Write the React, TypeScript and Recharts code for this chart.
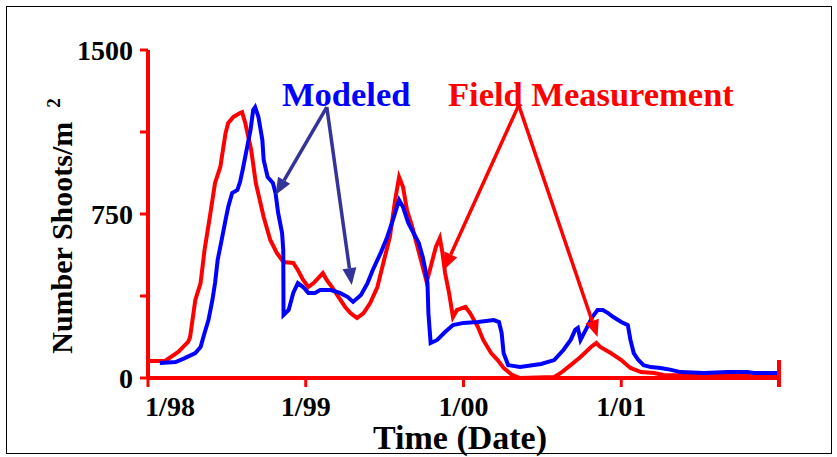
import { LineChart, Line, XAxis, YAxis, ReferenceLine, Customized } from "recharts";

// months since Jan 1998
const modeledMonths = [
  0.9, 2.1, 2.8, 3.6, 4.0, 4.3, 4.6, 4.9, 5.1, 5.3, 5.6, 5.9, 6.1, 6.4, 6.8, 7.0, 7.2, 7.5,
  7.8, 8.0, 8.15, 8.4, 8.7, 8.8, 9.1, 9.5, 9.7, 9.9, 10.2, 10.29, 10.31, 10.7, 11.05, 11.4,
  11.8, 12.2, 12.7, 13.1, 13.9, 14.6, 15.2, 15.6, 16.2, 16.7, 17.1, 17.7, 18.2, 18.7, 19.1,
  19.4, 19.8, 20.2, 20.6, 20.9, 21.1, 21.26, 21.33, 21.5, 22.0, 22.6, 23.2, 24.0, 25.1, 26.3,
  26.7, 26.9, 27.05, 27.4, 28.3, 29.9, 30.9, 31.6, 32.15, 32.5, 32.7, 32.9, 33.3, 33.8, 34.2,
  34.6, 35.0, 35.4, 36.0, 36.5, 36.7, 36.95, 37.3, 37.7, 38.25, 39.0, 39.8, 40.5, 42.3, 44.1,
  45.6, 46.1, 47.9,
];
const modeledShoots = [
  69, 73, 91, 114, 142, 206, 265, 357, 434, 540, 631, 723, 782, 846, 860, 896, 951, 1043,
  1134, 1226, 1239, 1194, 1088, 997, 919, 892, 846, 755, 663, 585, 288, 311, 389, 434,
  416, 389, 389, 402, 402, 389, 370, 348, 380, 434, 494, 572, 645, 736, 814,
  782, 709, 663, 617, 553, 494, 434, 297, 160, 174, 210, 242, 252, 256, 265,
  256, 206, 114, 59, 50, 64, 82, 128, 174, 220, 229, 174, 220, 279, 311,
  311, 297, 279, 256, 242, 174, 114, 82, 59, 50, 46, 37, 27, 23, 27,
  27, 23, 23,
];

const fieldMonths = [
  0.15, 1.3, 2.3, 3.05, 3.2, 3.6, 4.0, 4.3, 4.7, 5.1, 5.5, 5.7, 5.9, 6.1, 6.5, 7.0, 7.16,
  7.4, 7.85, 8.2, 8.8, 9.3, 9.8, 10.3, 11.05, 11.4, 11.8, 12.2, 12.6, 13.3, 13.6, 14.0,
  14.5, 15.0, 15.4, 15.9, 16.4, 16.9, 17.45, 17.9, 18.4, 18.8, 19.1, 19.4, 19.7, 20.1, 20.5,
  20.9, 21.2, 21.5, 21.9, 22.2, 22.4, 22.6, 22.9, 23.2, 23.5, 24.15, 24.5, 25.1, 25.5, 26.1,
  26.6, 27.05, 27.7, 28.3, 30.9, 31.4, 32.15, 32.9, 33.7, 34.1, 34.4, 35.2, 36.0, 36.7, 37.5,
  38.5, 39.2, 47.9,
];
const fieldShoots = [
  78, 78, 119, 165, 187, 357, 434, 585, 736, 892, 965, 1043, 1120, 1166, 1194, 1212, 1216,
  1166, 1043, 892, 736, 631, 572, 530, 526, 494, 448, 416, 434, 480, 448, 416,
  370, 325, 297, 274, 297, 343, 416, 526, 645, 814, 919, 873, 768, 691, 599,
  508, 439, 508, 599, 640, 572, 480, 389, 279, 311, 325, 297, 233, 174, 114,
  82, 46, 14, 0, 5, 23, 59, 96, 142, 160, 142, 114, 82, 46, 27,
  23, 14, 9,
];

const yTicks = [0, 375, 750, 1125, 1500];
const yLabeled = [0, 750, 1500];
const xTicks = [0, 12, 24, 36, 48];
const xTickLabels = ["1/98", "1/99", "1/00", "1/01", ""];

const modeledData = modeledMonths.map((m, i) => ({ m, v: modeledShoots[i] }));
const fieldData = fieldMonths.map((m, i) => ({ m, v: fieldShoots[i] }));

// annotation arrows: [apex month, apex value, tip month, tip value]
const modeledArrows = [
  [13.6, 1239, 9.7, 837],
  [13.6, 1239, 15.5, 425],
];
const fieldArrows = [
  [28.2, 1248, 22.5, 494],
  [28.2, 1248, 34.2, 187],
];

const FONT = "Liberation Serif, Times New Roman, serif";
const RED = "#ff0000";
const BLUE = "#0000ff";
const NAVY = "#333399";
const serif = { fontFamily: FONT, fontWeight: 700 };

const YTick = (props: any) => {
  const { x, y, payload } = props;
  if (!yLabeled.includes(payload.value)) return null;
  return (
    <text x={x} y={y} dy={10} textAnchor="end" style={serif} fontSize={28} fill="#000">
      {payload.value}
    </text>
  );
};

const XTick = (props: any) => {
  const { x, y, payload, index } = props;
  const axisY = y - 11;
  if (payload.value === 48) {
    return <line x1={x} y1={axisY - 18} x2={x} y2={axisY + 9} stroke={RED} strokeWidth={4} />;
  }
  return (
    <text x={x + (index === 0 ? 22 : 0)} y={y} dy={27} textAnchor="middle" style={serif} fontSize={28} fill="#000">
      {xTickLabels[index]}
    </text>
  );
};

const arrowShape = (color: string) => (props: any) => {
  const { x1, y1, x2, y2 } = props;
  if ([x1, y1, x2, y2].some((n) => typeof n !== "number")) return null;
  const a = Math.atan2(y2 - y1, x2 - x1);
  const len = 17;
  const w = 7;
  const bx = x2 - len * Math.cos(a);
  const by = y2 - len * Math.sin(a);
  const px = -Math.sin(a) * w;
  const py = Math.cos(a) * w;
  return (
    <g>
      <line x1={x1} y1={y1} x2={bx} y2={by} stroke={color} strokeWidth={3.5} />
      <polygon points={`${x2},${y2} ${bx + px},${by + py} ${bx - px},${by - py}`} fill={color} />
    </g>
  );
};

const Labels = () => (
  <g>
    <text x={282} y={106} fontSize={34.5} fill={BLUE} style={serif}>Modeled</text>
    <text x={448} y={106} fontSize={34.5} fill={RED} style={serif}>Field Measurement</text>
    <text x={460} y={449} fontSize={34} textAnchor="middle" fill="#000" style={serif}>Time (Date)</text>
    <text transform="translate(72,226) rotate(-90)" textAnchor="middle" fontSize={30} fill="#000" style={serif}>
      Number Shoots/m<tspan fontSize={19} dx={14} dy={-12}>2</tspan>
    </text>
  </g>
);

export default function App() {
  return (
    <div style={{ position: "absolute", left: 0, top: 0, width: 837, height: 457, background: "#fff" }}>
      <div
        style={{
          position: "absolute",
          left: 6,
          top: 6,
          width: 824,
          height: 446,
          border: "1.5px solid #000",
        }}
      />
      <LineChart width={837} height={457} margin={{ top: 50, right: 58, bottom: 49, left: 88 }}>
        <XAxis
          type="number"
          dataKey="m"
          domain={[0, 48]}
          ticks={xTicks}
          height={30}
          axisLine={{ stroke: RED, strokeWidth: 4 }}
          tickLine={{ stroke: RED, strokeWidth: 3 }}
          tickSize={9}
          tickMargin={2}
          tick={<XTick />}
          interval={0}
          allowDataOverflow
        />
        <YAxis
          type="number"
          domain={[0, 1500]}
          ticks={yTicks}
          width={60}
          axisLine={{ stroke: RED, strokeWidth: 4 }}
          tickLine={{ stroke: RED, strokeWidth: 3 }}
          tickSize={8}
          tickMargin={7}
          tick={<YTick />}
          interval={0}
        />
        <Line data={fieldData} dataKey="v" type="linear" stroke={RED} strokeWidth={4} dot={false} isAnimationActive={false} />
        <Line data={modeledData} dataKey="v" type="linear" stroke={BLUE} strokeWidth={4} dot={false} isAnimationActive={false} />
        {modeledArrows.map((s, i) => (
          <ReferenceLine
            key={`ma${i}`}
            segment={[{ x: s[0], y: s[1] }, { x: s[2], y: s[3] }]}
            shape={arrowShape(NAVY)}
          />
        ))}
        {fieldArrows.map((s, i) => (
          <ReferenceLine
            key={`fa${i}`}
            segment={[{ x: s[0], y: s[1] }, { x: s[2], y: s[3] }]}
            shape={arrowShape(RED)}
          />
        ))}
        <Customized component={Labels} />
      </LineChart>
    </div>
  );
}
